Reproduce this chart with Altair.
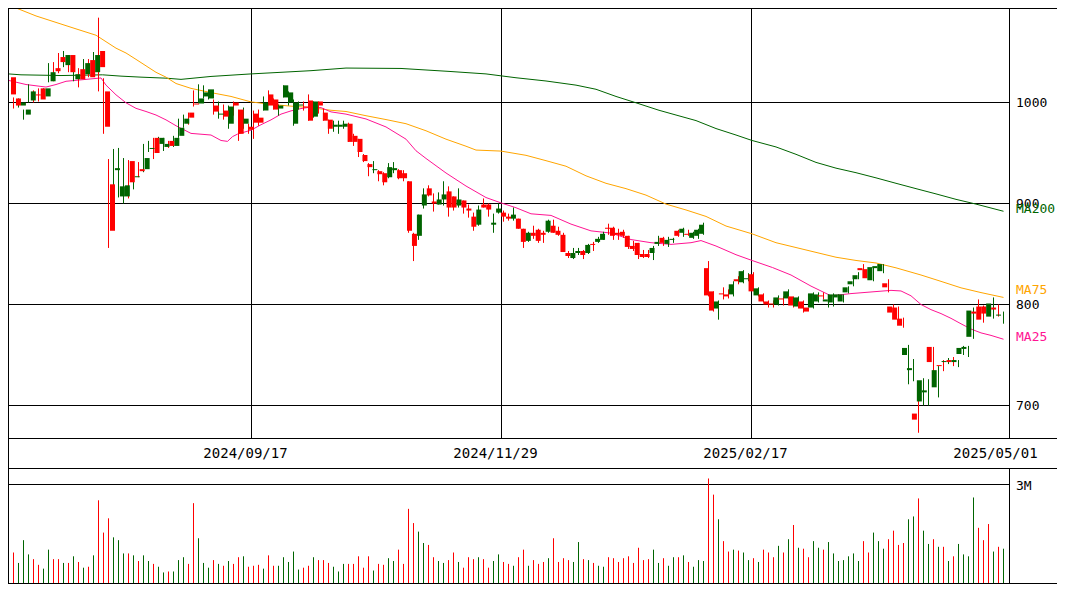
import altair as alt
import pandas as pd

# ---------------- data ----------------
OPEN = [1025,1004,997,988,1002,1008,1014,1006,1021,1034,
        1045,1037,1047,1023,1033,1028,1042,1030,1051,1011,
        919,933,907,907,942,926,934,934,954,965,
        959,956,962,957,967,979,990,999,999,1006,
        1004,997,988,992,979,1000,993,979,976,989,
        985,992,1008,1003,994,1005,1000,979,997,996,
        1002,986,1001,990,983,976,976,976,979,967,
        964,948,939,933,932,930,926,933,933,930,
        922,870,868,898,915,902,899,904,912,907,
        898,903,895,887,879,899,899,879,891,891,
        887,885,885,875,863,871,874,871,872,878,
        873,869,851,846,851,853,851,860,862,864,
        876,876,871,872,868,858,861,850,850,851,
        860,866,860,864,873,871,870,866,868,870,
        836,813,796,811,810,810,825,822,825,830,
        809,810,803,801,800,806,806,808,798,803,
        797,797,803,809,803,802,807,803,812,820,
        825,836,835,824,836,833,821,798,797,786,
        750,735,692,704,713,758,718,740,743,745,
        743,751,756,768,793,798,798,788,797,789]
HIGH = [1025,1005,1004,993,1018,1012,1014,1014,1039,1040,
        1049,1051,1047,1035,1034,1043,1043,1050,1084,1024,
        944,954,955,945,943,930,941,959,962,965,
        966,965,962,967,984,988,990,1012,1018,1017,
        1013,1003,1001,998,997,1001,993,995,979,992,
        993,1006,1012,1004,998,1017,1011,1003,1001,1001,
        1008,1001,1001,994,983,982,982,982,980,969,
        964,949,940,942,933,931,940,941,934,933,
        922,871,889,915,918,910,911,922,917,907,
        915,903,899,891,898,905,900,890,900,893,
        890,896,885,875,872,878,875,873,884,884,
        877,871,853,856,856,854,860,862,867,872,
        880,877,875,874,868,863,861,854,854,858,
        868,867,867,866,874,876,874,872,875,881,
        843,813,804,817,815,823,828,834,831,832,
        817,811,804,804,809,808,815,808,808,804,
        797,812,812,812,810,811,810,810,818,826,
        832,840,836,837,840,840,825,800,798,787,
        760,746,707,727,726,758,739,745,747,748,
        745,759,759,797,805,799,799,807,800,793]
LOW = [1008,994,995,983,1000,1000,1001,1004,1020,1021,
       1029,1035,1030,1021,1015,1025,1025,1029,1011,969,
       856,910,906,900,905,914,926,931,951,944,
       956,952,955,956,965,975,978,996,999,1004,
       1003,988,984,983,974,987,962,974,969,964,
       977,992,997,993,987,1005,997,977,993,992,
       982,985,989,982,969,971,969,974,961,957,
       946,941,927,930,922,918,925,930,924,922,
       871,843,864,895,907,892,899,898,887,893,
       896,890,886,873,878,896,887,871,890,882,
       883,883,875,856,862,865,861,861,871,871,
       868,852,846,845,849,845,850,853,861,864,
       869,864,864,866,855,853,845,846,846,844,
       858,858,857,861,867,867,868,865,865,869,
       808,793,785,805,806,808,820,821,823,813,
       808,802,797,797,799,799,805,797,797,792,
       793,796,802,805,797,798,806,802,811,818,
       825,831,825,823,834,831,812,792,785,777,
       721,724,673,700,700,732,708,734,741,739,
       738,750,748,766,790,782,790,786,788,781]
CLOSE = [1008,997,1000,993,1011,1007,1003,1014,1030,1031,
         1040,1047,1030,1028,1023,1039,1025,1047,1035,976,
         873,935,917,918,921,927,932,945,955,950,
         965,959,957,965,975,984,985,998,1004,1010,
         1013,991,989,986,996,997,969,984,973,980,
         980,1000,997,993,997,1017,1010,1000,998,995,
         982,1001,997,982,974,978,978,979,961,961,
         951,942,936,934,929,921,936,935,925,925,
         873,858,889,909,908,900,904,909,896,896,
         904,896,893,877,894,896,894,881,895,887,
         885,889,875,862,871,868,863,869,883,871,
         869,852,848,851,853,849,859,859,865,870,
         875,868,869,868,857,855,849,847,847,856,
         862,861,864,865,868,875,869,871,874,879,
         809,794,803,810,808,820,823,833,826,813,
         816,803,800,800,807,805,813,799,807,796,
         793,811,810,808,805,810,810,810,817,823,
         829,834,826,837,838,840,817,792,785,779,
         757,737,686,725,715,743,735,739,744,743,
         745,757,758,794,791,785,791,801,795,790]
VOLUME_K = [709,939,623,1313,882,738,566,450,1026,738,
            738,623,623,824,652,479,508,853,2521,1543,
            1975,1399,1313,911,911,853,681,853,681,594,
            508,335,364,364,709,796,594,2435,1371,623,
            479,709,594,537,681,594,796,824,508,537,
            566,450,853,537,537,796,652,968,422,479,
            537,796,709,709,623,508,364,594,594,594,
            824,479,824,393,594,566,767,681,1026,594,
            2262,1831,1572,1227,1169,796,681,623,709,939,
            652,479,796,738,796,738,479,681,882,652,
            594,537,796,1026,537,709,594,652,767,1371,
            652,767,709,652,1256,738,709,623,537,508,
            796,767,652,767,824,623,1083,709,738,1026,
            623,767,537,796,796,853,652,508,709,681,
            3182,2693,1946,1284,968,1026,997,939,709,767,
            652,1026,939,796,1141,939,1342,1773,1083,1054,
            796,1284,1083,1026,1256,911,681,709,824,911,
            681,1284,939,1543,1284,1054,1342,1601,1169,1227,
            1946,2032,2578,1601,1198,1342,1112,1112,681,824,
            1198,882,824,2607,1687,1313,1802,968,1112,1054]

MA25_IDX = [0,3.5,7.5,9.5,11.5,15.5,18.5,19.5,21.5,23.5,25.5,27.5,29.5,31.5,33.5,
            36.5,40.5,42.5,43.8,44.8,45.8,48.5,50.5,52.5,54.5,56.5,58.5,60.5,62.5,64.5,
            67.5,71.5,75.5,79.5,81.5,83.5,87.5,91.5,95.5,98.5,101.5,104.5,108.5,112.5,116.5,
            120.5,124.5,128.5,132.5,136.5,138.5,141.5,145.5,148.7,152.8,156.5,160.5,164.5,
            168.5,172.5,176.5,178.5,180.5,182.5,184.5,186.5,188.5,190.5,192.5,194.5,196.5,199]
MA25_VAL = [1021.9,1017.8,1015.3,1017.8,1021.0,1022.9,1024.3,1017.2,1007.6,999.7,994.2,991.1,987.6,982.8,977.0,
            969.4,967.8,962.4,961.5,966.2,968.7,972.6,978.0,982.8,988.5,991.7,994.0,995.5,994.9,990.7,
            988.5,983.7,975.8,963.7,952.2,944.6,930.2,917.3,905.9,900.6,895.8,889.8,888.2,879.6,872.9,
            870.7,864.3,861.2,859.5,861.2,863.3,857.9,849.3,843.6,836.6,829.2,818.2,808.6,
            810.8,812.4,814.0,813.4,808.6,800.0,794.9,791.0,786.3,780.9,775.7,771.9,769.4,765.6]
MA75_IDX = [1.5,5.5,9.5,13.5,17.5,19.5,21.5,23.5,25.5,27.5,29.5,31.5,33.5,36.5,40.5,
            44.5,48.5,52.5,56.5,60.5,64.5,67.5,71.5,75.5,79.5,83.5,87.5,91.5,93.5,98.5,
            103.5,107.5,111.5,115.5,119.5,123.5,127.5,131.5,135.5,139.5,143.5,148.7,153.5,157.5,
            161.5,165.5,169.5,173.5,177.5,182.5,186.5,190.5,194.5,199]
MA75_VAL = [1093.6,1085.7,1079.3,1072.9,1066.6,1060.2,1053.8,1049.0,1042.7,1036.3,1029.9,1025.1,1018.8,1014.0,1009.8,
            1006.0,1000.6,998.1,996.4,994.9,992.3,991.1,986.9,983.1,979.0,972.0,963.7,956.7,952.9,951.9,
            947.7,942.4,936.9,927.4,920.0,914.7,908.3,899.4,893.6,887.2,877.7,870.0,861.2,856.4,
            851.6,846.8,843.6,841.1,836.3,829.2,822.9,816.5,811.8,807.0]
MA200_IDX = [0,2.5,10.5,18.8,22.5,26.5,31.5,34.5,40.5,48.5,54.5,60.5,67.5,78.5,88.1,
             95.5,101.5,107.5,113.5,117.5,121.5,125.5,130.1,133.5,137.5,141.5,145.5,148.7,153.5,157.5,
             161.5,165.5,169.5,173.5,177.5,181.5,185.5,189.5,193.5,199]
MA200_VAL = [1028.3,1027.4,1026.7,1027.4,1026.1,1025.1,1024.1,1022.9,1025.8,1028.3,1029.9,1031.5,1034.1,1033.7,1030.8,
             1028.3,1024.5,1021.3,1017.2,1013.1,1006.0,999.7,992.3,987.6,982.1,974.2,967.8,962.4,956.0,948.7,
             940.7,935.0,930.5,925.4,920.0,914.7,909.5,904.1,899.4,892.3]

PRICE_TICKS = [700, 800, 900, 1000]
DATE_LABELS = ["2024/09/17", "2024/11/29", "2025/02/17", "2025/05/01"]
DATE_IDX = [48.6, 98.6, 148.6, 198.6]

# ---------------- layout / style ----------------
W = 1001            # plot width (5 px per candle)
TW = 1049           # total width
TH = 576            # total height
HP = 430.5          # bottom of price panel
STRIP = 460.5       # bottom of date strip
VBASE = 575.5       # volume baseline
FONT = "DejaVu Sans Mono"
RED, GREEN = "#ff0000", "#006400"
C25, C75, C200 = "#ff1493", "#ffa500", "#006400"

n = len(OPEN)
cols = [RED if c < o else GREEN for o, c in zip(OPEN, CLOSE)]
df = pd.DataFrame({
    "i": list(range(n)), "open": OPEN, "high": HIGH, "low": LOW, "close": CLOSE,
    "vol": [v * 1000 for v in VOLUME_K], "col": cols, "zero": [0] * n,
})

xs = alt.Scale(domain=[-0.1, 200.1], range=[0, W], nice=False, zero=False)
ps = alt.Scale(domain=[700, 1000], range=[397.5, 94.5], nice=False, zero=False)
vs = alt.Scale(domain=[0, 3000000], range=[VBASE, 476.5], nice=False, zero=False)

X = lambda f: alt.X(f, scale=xs, axis=None)
YP = lambda f: alt.Y(f, scale=ps, axis=None)
YV = lambda f: alt.Y(f, scale=vs, axis=None)
COL = alt.Color("col:N", scale=None)

one = pd.DataFrame({"k": [0]})

def hline(y, x0, x1):
    return alt.Chart(one).mark_rule(color="black", strokeWidth=1).encode(
        x=alt.value(x0), x2=alt.value(x1), y=alt.value(y))

def vline(x, y0, y1):
    return alt.Chart(one).mark_rule(color="black", strokeWidth=1).encode(
        x=alt.value(x), y=alt.value(y0), y2=alt.value(y1))

# grid
hgrid = alt.Chart(pd.DataFrame({"p": PRICE_TICKS})).mark_rule(color="black", strokeWidth=1).encode(
    y=YP("p:Q"), x=alt.value(0), x2=alt.value(W))
vgrid = alt.Chart(pd.DataFrame({"i": DATE_IDX[:3]})).mark_rule(color="black", strokeWidth=1).encode(
    x=X("i:Q"), y=alt.value(0), y2=alt.value(HP))
vol_grid = alt.Chart(pd.DataFrame({"v": [3000000]})).mark_rule(color="black", strokeWidth=1).encode(
    y=YV("v:Q"), x=alt.value(0), x2=alt.value(W))

def ma_line(ix, vals, color):
    return alt.Chart(pd.DataFrame({"i": ix, "v": vals})).mark_line(
        color=color, strokeWidth=1, clip=True).encode(x=X("i:Q"), y=YP("v:Q"))

ma200 = ma_line(MA200_IDX, MA200_VAL, C200)
ma75 = ma_line(MA75_IDX, MA75_VAL, C75)
ma25 = ma_line(MA25_IDX, MA25_VAL, C25)

base = alt.Chart(df)
wicks = base.mark_rule(strokeWidth=1).encode(x=X("i:Q"), y=YP("low:Q"), y2="high:Q", color=COL)
bodies = base.mark_bar(size=5).encode(x=X("i:Q"), y=YP("open:Q"), y2="close:Q", color=COL)
vols = base.mark_rule(strokeWidth=1).encode(x=X("i:Q"), y=YV("vol:Q"), y2="zero:Q", color=COL)

# labels
price_lbl = alt.Chart(pd.DataFrame({"p": PRICE_TICKS, "t": [str(p) for p in PRICE_TICKS]})).mark_text(
    align="left", baseline="middle", font=FONT, fontSize=13, color="black").encode(
    x=alt.value(W + 7), y=YP("p:Q"), text="t:N")
vol_lbl = alt.Chart(pd.DataFrame({"v": [3000000], "t": ["3M"]})).mark_text(
    align="left", baseline="middle", font=FONT, fontSize=13, color="black", dy=1).encode(
    x=alt.value(W + 7), y=YV("v:Q"), text="t:N")

def ma_label(name, value, color, dy):
    return alt.Chart(pd.DataFrame({"t": [name], "v": [value]})).mark_text(
        align="left", baseline="middle", font=FONT, fontSize=13, color=color, dy=dy).encode(
        x=alt.value(W + 7), y=YP("v:Q"), text="t:N")

lbl200 = ma_label("MA200", MA200_VAL[-1], C200, -2)
lbl75 = ma_label("MA75", MA75_VAL[-1], C75, -7)
lbl25 = ma_label("MA25", MA25_VAL[-1], C25, -2)

date_lbl = alt.Chart(pd.DataFrame({"i": DATE_IDX, "t": DATE_LABELS})).mark_text(
    align="center", baseline="middle", font=FONT, fontSize=14, color="black", dx=-6).encode(
    x=X("i:Q"), y=alt.value(446), text="t:N")

frame = [
    hline(0.5, 0, TW),
    hline(HP, 0, TW),
    hline(STRIP, 0, TW),
    hline(VBASE, 0, TW),
    vline(0.5, 0, TH),
    vline(W + 0.5, 0, HP),
    vline(W + 0.5, STRIP, TH),
]

chart = alt.layer(
    hgrid, vgrid, vol_grid, ma200, ma75, ma25, wicks, bodies, vols,
    *frame, price_lbl, vol_lbl, lbl200, lbl75, lbl25, date_lbl,
).resolve_scale(x="independent", y="independent").properties(
    width=TW, height=TH, padding=0, background="white",
    autosize=alt.AutoSizeParams(type="none"),
).configure_view(strokeWidth=0)

chart.save("out.html", embed_options={"renderer": "svg", "actions": False})
